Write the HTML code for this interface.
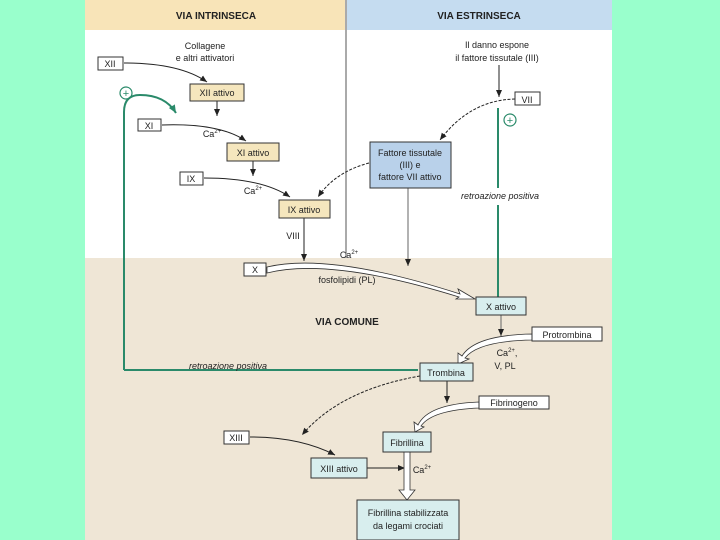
<!DOCTYPE html>
<html><head><meta charset="utf-8"><style>
html,body{margin:0;padding:0;background:#99ffcc;}
svg{display:block;font-family:"Liberation Sans",sans-serif;}
</style></head><body>
<svg width="720" height="540" viewBox="0 0 720 540" xmlns="http://www.w3.org/2000/svg">
<defs>
<marker id="a" markerWidth="8" markerHeight="8" refX="7" refY="4" orient="auto" markerUnits="userSpaceOnUse"><path d="M0,1 L7,4 L0,7 z" fill="#222"/></marker>
<marker id="g" markerWidth="9" markerHeight="9" refX="8" refY="4.5" orient="auto" markerUnits="userSpaceOnUse"><path d="M0,1 L8,4.5 L0,8 z" fill="#2a8a6a"/></marker>
</defs>
<rect x="85" y="0" width="527" height="540" fill="#fff"/>
<rect x="85" y="258" width="527" height="282" fill="#efe6d6"/>
<rect x="85" y="0" width="261" height="30" fill="#f8e4b8"/>
<rect x="346" y="0" width="266" height="30" fill="#c5dcf0"/>
<line x1="346" y1="0" x2="346" y2="258" stroke="#aaa" stroke-width="2"/>
<g font-weight="bold" font-size="10" text-anchor="middle" fill="#222">
<text x="216" y="19">VIA INTRINSECA</text>
<text x="479" y="19">VIA ESTRINSECA</text>
<text x="347" y="325" font-size="10">VIA COMUNE</text>
</g>
<!-- green feedback -->
<g stroke="#2a8a6a" stroke-width="2" fill="none">
<path d="M124,370 L124,112 Q124,95 140,95 Q165,95 176,113" marker-end="url(#g)"/>
<path d="M124,370 L418,370"/>
<path d="M498,297 L498,205"/><path d="M498,188 L498,108"/>
</g>
<g stroke="#2a8a6a" stroke-width="1.2" fill="none"><circle cx="126" cy="93" r="6"/><circle cx="510" cy="120" r="6"/></g>
<g fill="#2a8a6a" font-size="11" text-anchor="middle"><text x="126" y="97">+</text><text x="510" y="124">+</text></g>
<!-- connectors -->
<g stroke="#222" stroke-width="1" fill="none">
<path d="M124,63 Q180,63 207,82" marker-end="url(#a)"/>
<line x1="217" y1="101" x2="217" y2="116" marker-end="url(#a)"/>
<path d="M162,125 Q220,123 246,141" marker-end="url(#a)"/>
<line x1="253" y1="161" x2="253" y2="176" marker-end="url(#a)"/>
<path d="M204,178 Q262,178 290,197" marker-end="url(#a)"/>
<line x1="499" y1="65" x2="499" y2="97" marker-end="url(#a)"/>
<path d="M515,99 Q470,100 440,140" stroke-dasharray="3,1.5" marker-end="url(#a)"/>
<path d="M369,163 Q335,172 318,197" stroke-dasharray="3,1.5" marker-end="url(#a)"/>
<line x1="304" y1="218" x2="304" y2="261" marker-end="url(#a)"/>
<line x1="408" y1="188" x2="408" y2="266" marker-end="url(#a)" stroke="#666"/>
<line x1="501" y1="315" x2="501" y2="336" marker-end="url(#a)" stroke="#666"/>
<path d="M420,376 Q340,390 302,435" stroke-dasharray="3,1.5" marker-end="url(#a)"/>
<line x1="447" y1="381" x2="447" y2="403" marker-end="url(#a)"/>
<path d="M250,437 Q300,437 335,455" marker-end="url(#a)"/>
<line x1="367" y1="468" x2="405" y2="468" marker-end="url(#a)"/>
</g>
<!-- double arrows -->
<g fill="#fff" stroke="#333" stroke-width="0.8">
<path d="M267,267 Q330,252 460,294 L458,289 L475,299 L456,299 L459,297 Q330,257 267,273 z"/>
<path d="M532,334 Q475,335 462,356 L458,353 L458,364 L469,359 L465,358 Q478,341 532,340 z"/>
<path d="M479,402 Q428,404 418,425 L414,422 L415,432 L424,427 L421,426 Q432,410 479,408 z"/>
<path d="M404,452 L404,490 L399,490 L407,500 L415,490 L410,490 L410,452 z"/>
</g>
<!-- boxes -->
<g stroke="#333" stroke-width="1">
<rect x="98" y="57" width="25" height="13" fill="#fff"/>
<rect x="190" y="84" width="54" height="17" fill="#f5e6bd"/>
<rect x="138" y="119" width="23" height="12" fill="#fff"/>
<rect x="227" y="143" width="52" height="18" fill="#f5e6bd"/>
<rect x="180" y="172" width="23" height="13" fill="#fff"/>
<rect x="279" y="200" width="51" height="18" fill="#f5e6bd"/>
<rect x="515" y="92" width="25" height="13" fill="#fff"/>
<rect x="370" y="142" width="81" height="46" fill="#b9d1ea"/>
<rect x="244" y="263" width="22" height="13" fill="#fff"/>
<rect x="476" y="297" width="50" height="18" fill="#d8eeee"/>
<rect x="532" y="327" width="70" height="14" fill="#fff"/>
<rect x="420" y="363" width="53" height="18" fill="#d8eeee"/>
<rect x="479" y="396" width="70" height="13" fill="#fff"/>
<rect x="383" y="432" width="48" height="20" fill="#d8eeee"/>
<rect x="224" y="431" width="25" height="13" fill="#fff"/>
<rect x="311" y="458" width="56" height="20" fill="#d8eeee"/>
<rect x="357" y="500" width="102" height="40" fill="#d8eeee"/>
</g>
<g font-size="9" fill="#222" text-anchor="middle">
<text x="110" y="67">XII</text>
<text x="217" y="96">XII attivo</text>
<text x="149" y="129">XI</text>
<text x="253" y="156">XI attivo</text>
<text x="191" y="182">IX</text>
<text x="304" y="213">IX attivo</text>
<text x="527" y="103">VII</text>
<text x="410" y="156">Fattore tissutale</text>
<text x="410" y="168">(III) e</text>
<text x="410" y="180">fattore VII attivo</text>
<text x="255" y="273">X</text>
<text x="501" y="310">X attivo</text>
<text x="567" y="338">Protrombina</text>
<text x="446" y="376">Trombina</text>
<text x="514" y="406">Fibrinogeno</text>
<text x="407" y="446">Fibrillina</text>
<text x="236" y="441">XIII</text>
<text x="339" y="472">XIII attivo</text>
<text x="408" y="516">Fibrillina stabilizzata</text>
<text x="408" y="529">da legami crociati</text>
<text x="205" y="49">Collagene</text>
<text x="205" y="61">e altri attivatori</text>
<text x="497" y="48">Il danno espone</text>
<text x="497" y="61">il fattore tissutale (III)</text>
<text x="212" y="137">Ca<tspan font-size="6" dy="-4">2+</tspan></text>
<text x="253" y="194">Ca<tspan font-size="6" dy="-4">2+</tspan></text>
<text x="293" y="239">VIII</text>
<text x="349" y="258">Ca<tspan font-size="6" dy="-4">2+</tspan></text>
<text x="347" y="283">fosfolipidi (PL)</text>
<text x="507" y="356">Ca<tspan font-size="6" dy="-4">2+</tspan><tspan dy="4">,</tspan></text>
<text x="505" y="369">V, PL</text>
<text x="422" y="473">Ca<tspan font-size="6" dy="-4">2+</tspan></text>
<text x="500" y="199" font-style="italic">retroazione positiva</text>
<text x="228" y="369" font-style="italic">retroazione positiva</text>
</g>
</svg>
</body></html>
